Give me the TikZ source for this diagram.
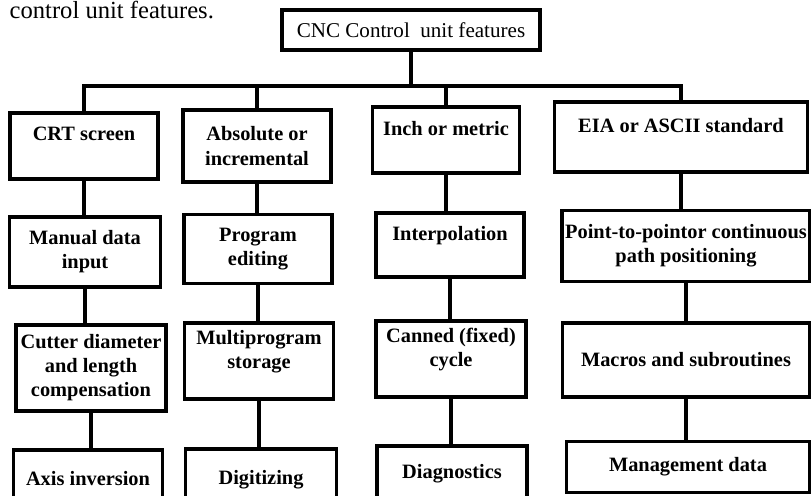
\documentclass[tikz,border=0pt]{standalone}
\usepackage{fontspec}
\setmainfont{Liberation Serif}
\begin{document}
\begin{tikzpicture}[x=0.02cm, y=-0.02cm, line width=1.9pt,
    every node/.style={draw, align=center, inner sep=1pt, font=\fontsize{11.6}{13.7}\selectfont\bfseries},
    sz/.style 2 args={minimum width=#1cm, minimum height=#2cm}]
\useasboundingbox (0,0) rectangle (811,495);
\node[draw=none, anchor=base west, inner sep=0pt, font=\fontsize{14}{16}\selectfont] (cap) at (8,18) {control unit features.};
\node[sz={5.16}{0.8}, font=\fontsize{12}{14}\selectfont] (0) at (411,30) {CNC Control\ \ unit features};
\coordinate (bus) at (411,86);
% first row
\node[sz={2.96}{1.32}] (11) at (84,146) {CRT screen\\~};
\node[sz={2.96}{1.44}] (12) at (257,146) {Absolute or\\incremental};
\node[sz={2.94}{1.32}] (13) at (446,140) {Inch or metric\\~};
\node[sz={5.06}{1.40}] (14) at (681,137) {EIA or ASCII standard\\~};
% second row
\node[sz={3.02}{1.40}] (21) at (85,252) {Manual data\\input};
\node[sz={2.96}{1.38}] (22) at (258,249) {Program\\editing};
\node[sz={2.96}{1.28}] (23) at (450,245) {Interpolation\\~};
\node[sz={4.96}{1.42}] (24) at (686,246) {Point-to-pointor continuous\\path positioning};
% third row
\node[sz={3.00}{1.72}] (31) at (91,368) {Cutter diameter\\and length\\compensation};
\node[sz={2.98}{1.52}] (32) at (259,361) {Multiprogram\\storage\\~};
\node[sz={3.00}{1.52}] (33) at (451,359) {Canned (fixed)\\cycle\\~};
\node[sz={4.94}{1.48}] (34) at (686,360) {Macros and subroutines};
% fourth row
\node[sz={2.98}{1.60}] (41) at (88,490) {Axis inversion\\~};
\node[sz={3.02}{1.60}] (42) at (261,489) {Digitizing\\~};
\node[sz={3.00}{1.48}] (43) at (452,483) {Diagnostics\\~};
\node[sz={4.86}{1.02}] (44) at (688,467) {Management data};
\draw (0.south) -- (0.south |- bus);
\draw (11.north) -- (11.north |- bus) -- (14.north |- bus) -- (14.north);
\draw (12.north) -- (12.north |- bus);
\draw (13.north) -- (13.north |- bus);
\foreach \a/\b in {11/21,21/31,31/41,12/22,22/32,32/42,13/23,23/33,33/43,14/24,24/34,34/44}
    \draw (\a.south) -- (\a.south |- \b.north);
\end{tikzpicture}
\end{document}
